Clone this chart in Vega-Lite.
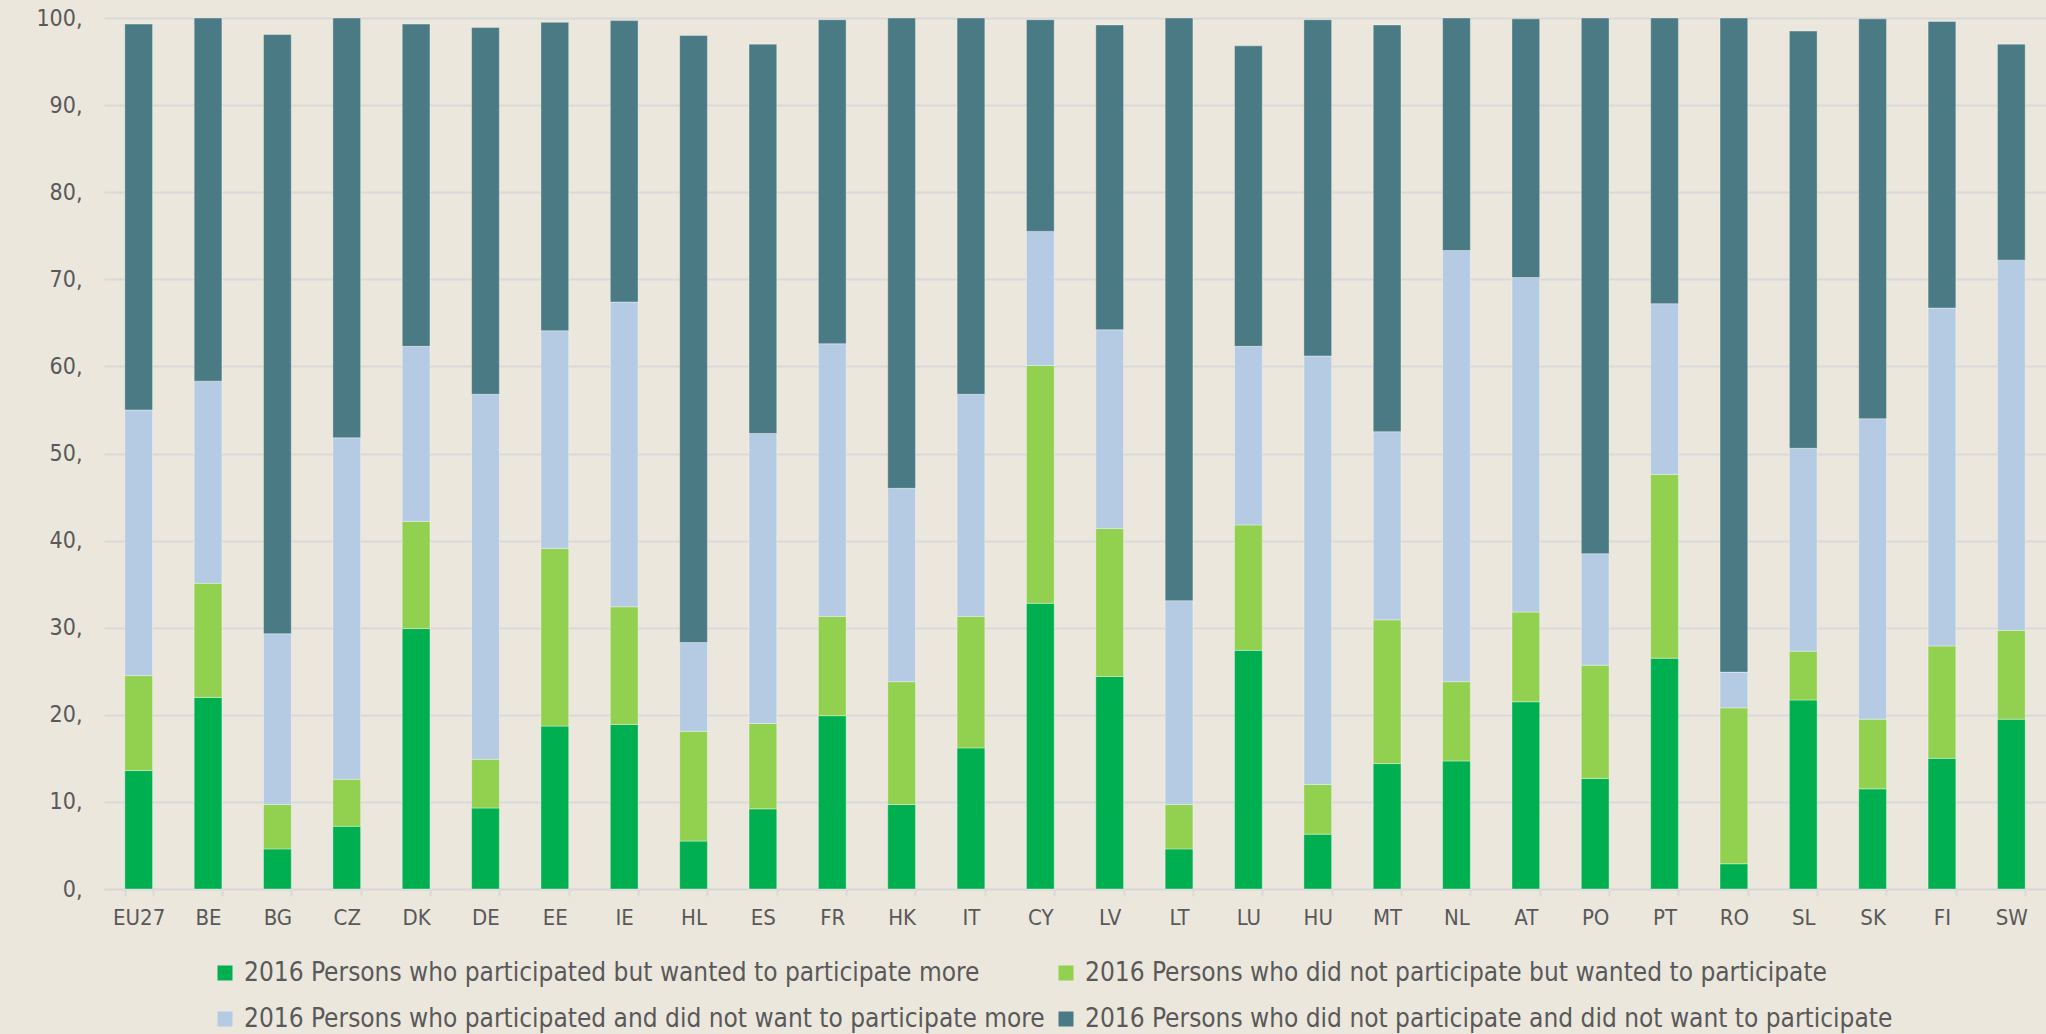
{
  "$schema": "https://vega.github.io/schema/vega-lite/v6.json",
  "width": 1942,
  "height": 871,
  "autosize": {"type": "none"},
  "padding": {"left": 104, "top": 18, "right": 0, "bottom": 145},
  "background": "#EBE7DD",
  "config": {"view": {"stroke": null}, "font": "Liberation Sans Narrow, DejaVu Sans Condensed, sans-serif"},
  "data": {"values": [
    {"country": "EU27", "p1": 13.6, "p2": 10.9, "p3": 30.5, "p4": 44.3},
    {"country": "BE", "p1": 22.0, "p2": 13.1, "p3": 23.2, "p4": 41.7},
    {"country": "BG", "p1": 4.6, "p2": 5.1, "p3": 19.6, "p4": 68.8},
    {"country": "CZ", "p1": 7.2, "p2": 5.4, "p3": 39.2, "p4": 48.2},
    {"country": "DK", "p1": 29.9, "p2": 12.3, "p3": 20.1, "p4": 37.0},
    {"country": "DE", "p1": 9.3, "p2": 5.6, "p3": 41.9, "p4": 42.1},
    {"country": "EE", "p1": 18.7, "p2": 20.4, "p3": 25.0, "p4": 35.4},
    {"country": "IE", "p1": 18.9, "p2": 13.5, "p3": 35.0, "p4": 32.3},
    {"country": "HL", "p1": 5.5, "p2": 12.6, "p3": 10.2, "p4": 69.7},
    {"country": "ES", "p1": 9.2, "p2": 9.8, "p3": 33.3, "p4": 44.7},
    {"country": "FR", "p1": 19.9, "p2": 11.4, "p3": 31.3, "p4": 37.2},
    {"country": "HK", "p1": 9.7, "p2": 14.1, "p3": 22.2, "p4": 54.0},
    {"country": "IT", "p1": 16.2, "p2": 15.1, "p3": 25.5, "p4": 43.2},
    {"country": "CY", "p1": 32.8, "p2": 27.3, "p3": 15.4, "p4": 24.3},
    {"country": "LV", "p1": 24.4, "p2": 17.0, "p3": 22.8, "p4": 35.0},
    {"country": "LT", "p1": 4.6, "p2": 5.1, "p3": 23.4, "p4": 66.9},
    {"country": "LU", "p1": 27.4, "p2": 14.4, "p3": 20.5, "p4": 34.5},
    {"country": "HU", "p1": 6.3, "p2": 5.7, "p3": 49.2, "p4": 38.6},
    {"country": "MT", "p1": 14.4, "p2": 16.5, "p3": 21.6, "p4": 46.7},
    {"country": "NL", "p1": 14.7, "p2": 9.1, "p3": 49.5, "p4": 26.7},
    {"country": "AT", "p1": 21.5, "p2": 10.3, "p3": 38.4, "p4": 29.7},
    {"country": "PO", "p1": 12.7, "p2": 13.0, "p3": 12.8, "p4": 61.5},
    {"country": "PT", "p1": 26.5, "p2": 21.1, "p3": 19.6, "p4": 32.8},
    {"country": "RO", "p1": 2.9, "p2": 17.9, "p3": 4.1, "p4": 75.1},
    {"country": "SL", "p1": 21.7, "p2": 5.6, "p3": 23.3, "p4": 47.9},
    {"country": "SK", "p1": 11.5, "p2": 8.0, "p3": 34.5, "p4": 45.9},
    {"country": "FI", "p1": 15.0, "p2": 12.9, "p3": 38.8, "p4": 32.9},
    {"country": "SW", "p1": 19.5, "p2": 10.2, "p3": 42.5, "p4": 24.8}
  ]},
  "transform": [{"fold": ["p1", "p2", "p3", "p4"], "as": ["series", "value"]}],
  "mark": {"type": "bar", "stroke": "#ffffff", "strokeOpacity": 0.35, "strokeWidth": 1},
  "encoding": {
    "x": {
      "field": "country", "type": "nominal", "sort": null,
      "scale": {"paddingInner": 0.6, "paddingOuter": 0.3},
      "axis": {"title": null, "labelAngle": 0, "labelFontSize": 22, "labelColor": "#595959", "labelPadding": 11,
               "domainColor": "#D9D9D9", "domainWidth": 2, "tickColor": "#D9D9D9", "tickWidth": 2, "tickSize": 7, "tickBand": "extent", "grid": false}
    },
    "y": {
      "field": "value", "type": "quantitative", "stack": "zero",
      "scale": {"domain": [0, 100], "nice": false},
      "axis": {"title": null, "values": [0, 10, 20, 30, 40, 50, 60, 70, 80, 90, 100], "labelExpr": "datum.value + ','",
               "labelFontSize": 23, "labelColor": "#595959", "labelPadding": 22, "domain": false, "ticks": false,
               "grid": true, "gridColor": "#D9D9D9", "gridWidth": 2}
    },
    "color": {
      "field": "series", "type": "nominal",
      "scale": {"domain": ["p1", "p2", "p3", "p4"], "range": ["#00B050", "#92D050", "#B4CBE3", "#4A7B84"]},
      "legend": {
        "title": null, "orient": "none", "legendX": 108, "legendY": 942, "direction": "horizontal", "columns": 2,
        "symbolType": "square", "symbolSize": 225, "symbolStrokeWidth": 0, "labelFontSize": 26, "labelColor": "#595959",
        "labelOffset": 6, "rowPadding": 20, "columnPadding": 8, "labelLimit": 1000,
        "labelExpr": "{'p1': '2016 Persons who participated but wanted to participate more', 'p2': '2016 Persons who did not participate but wanted to participate', 'p3': '2016 Persons who participated and did not want to participate more', 'p4': '2016 Persons who did not participate and did not want to participate'}[datum.value]"
      }
    },
    "order": {"field": "series", "sort": "ascending"}
  }
}
